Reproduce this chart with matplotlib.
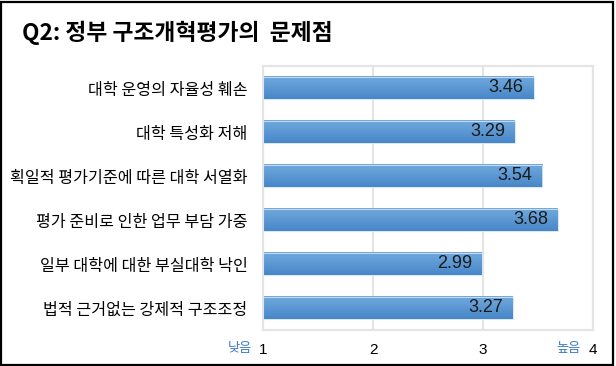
import numpy as np
import matplotlib
matplotlib.use('Agg')
import matplotlib.pyplot as plt
from matplotlib.patches import Rectangle
from matplotlib.colors import LinearSegmentedColormap

plt.rcParams['font.family'] = ['Noto Sans CJK KR', 'DejaVu Sans']

title = 'Q2: 정부 구조개혁평가의  문제점'
categories = ['대학 운영의 자율성 훼손', '대학 특성화 저해', '획일적 평가기준에 따른 대학 서열화',
              '평가 준비로 인한 업무 부담 가중', '일부 대학에 대한 부실대학 낙인', '법적 근거없는 강제적 구조조정']
values = [3.46, 3.29, 3.54, 3.68, 2.99, 3.27]
ticks = [1, 2, 3, 4]

fig = plt.figure(figsize=(6.16, 3.66), dpi=100)
ax = fig.add_axes([263 / 616, 1 - 330 / 366, 330 / 616, 264 / 366])

y = np.arange(len(categories))
bars = ax.barh(y, [v - 1 for v in values], left=1, height=0.52, color='#5b97d3',
               edgecolor='none', zorder=2)

# vertical gradient on each bar
cmap = LinearSegmentedColormap.from_list('bar', ['#72a9de', '#4787c8'])
grad = np.linspace(0, 1, 64).reshape(-1, 1)
for b in bars:
    x0, y0 = b.get_x(), b.get_y()
    w, h = b.get_width(), b.get_height()
    ax.imshow(grad, cmap=cmap, aspect='auto', extent=(x0, x0 + w, y0 + h, y0),
              zorder=2.5, interpolation='bilinear')
    ax.add_patch(Rectangle((x0, y0), w, h, fill=False, edgecolor='#d6e5f4',
                           linewidth=0.6, zorder=3))

for b, v in zip(bars, values):
    ax.text(v - 0.09, b.get_y() + b.get_height() / 2, f'{v:.2f}', ha='right', va='center',
            fontsize=13, family=['Liberation Sans', 'DejaVu Sans'], color='#1a1a1a', zorder=4)

ax.set_xlim(1, 4)
ax.set_ylim(len(categories) - 0.5, -0.5)
ax.set_xticks(ticks)
ax.set_xticklabels([str(t) for t in ticks], fontsize=11, family=['Liberation Sans', 'DejaVu Sans'])
ax.set_yticks(y)
ax.set_yticklabels(categories, fontsize=11.6)
ax.tick_params(axis='both', length=0)
ax.tick_params(axis='x', pad=9)
ax.tick_params(axis='y', pad=11)
ax.grid(axis='x', color='#e4e4e4', linewidth=1.5, zorder=0)
ax.set_axisbelow(True)
for s in ax.spines.values():
    s.set_color('#e4e4e4')
    s.set_linewidth(1.5)

ax.annotate('낮음', xy=(1, 0), xycoords=('data', 'axes fraction'), xytext=(-8, -13),
            textcoords='offset points', ha='right', va='center', fontsize=9.5,
            color='#3b7cc6', annotation_clip=False)
ax.annotate('높음', xy=(4, 0), xycoords=('data', 'axes fraction'), xytext=(-9, -13),
            textcoords='offset points', ha='right', va='center', fontsize=9.5,
            color='#3b7cc6', annotation_clip=False)

fig.text(22 / 616, 1 - 33 / 366, title, fontsize=16.4, fontweight='bold', ha='left', va='center')

fig.patches.append(Rectangle((1 / 616, 1 / 366), 612 / 616, 363 / 366, transform=fig.transFigure,
                             fill=False, edgecolor='black', linewidth=1.6))

fig.savefig('out.png', dpi=100)
